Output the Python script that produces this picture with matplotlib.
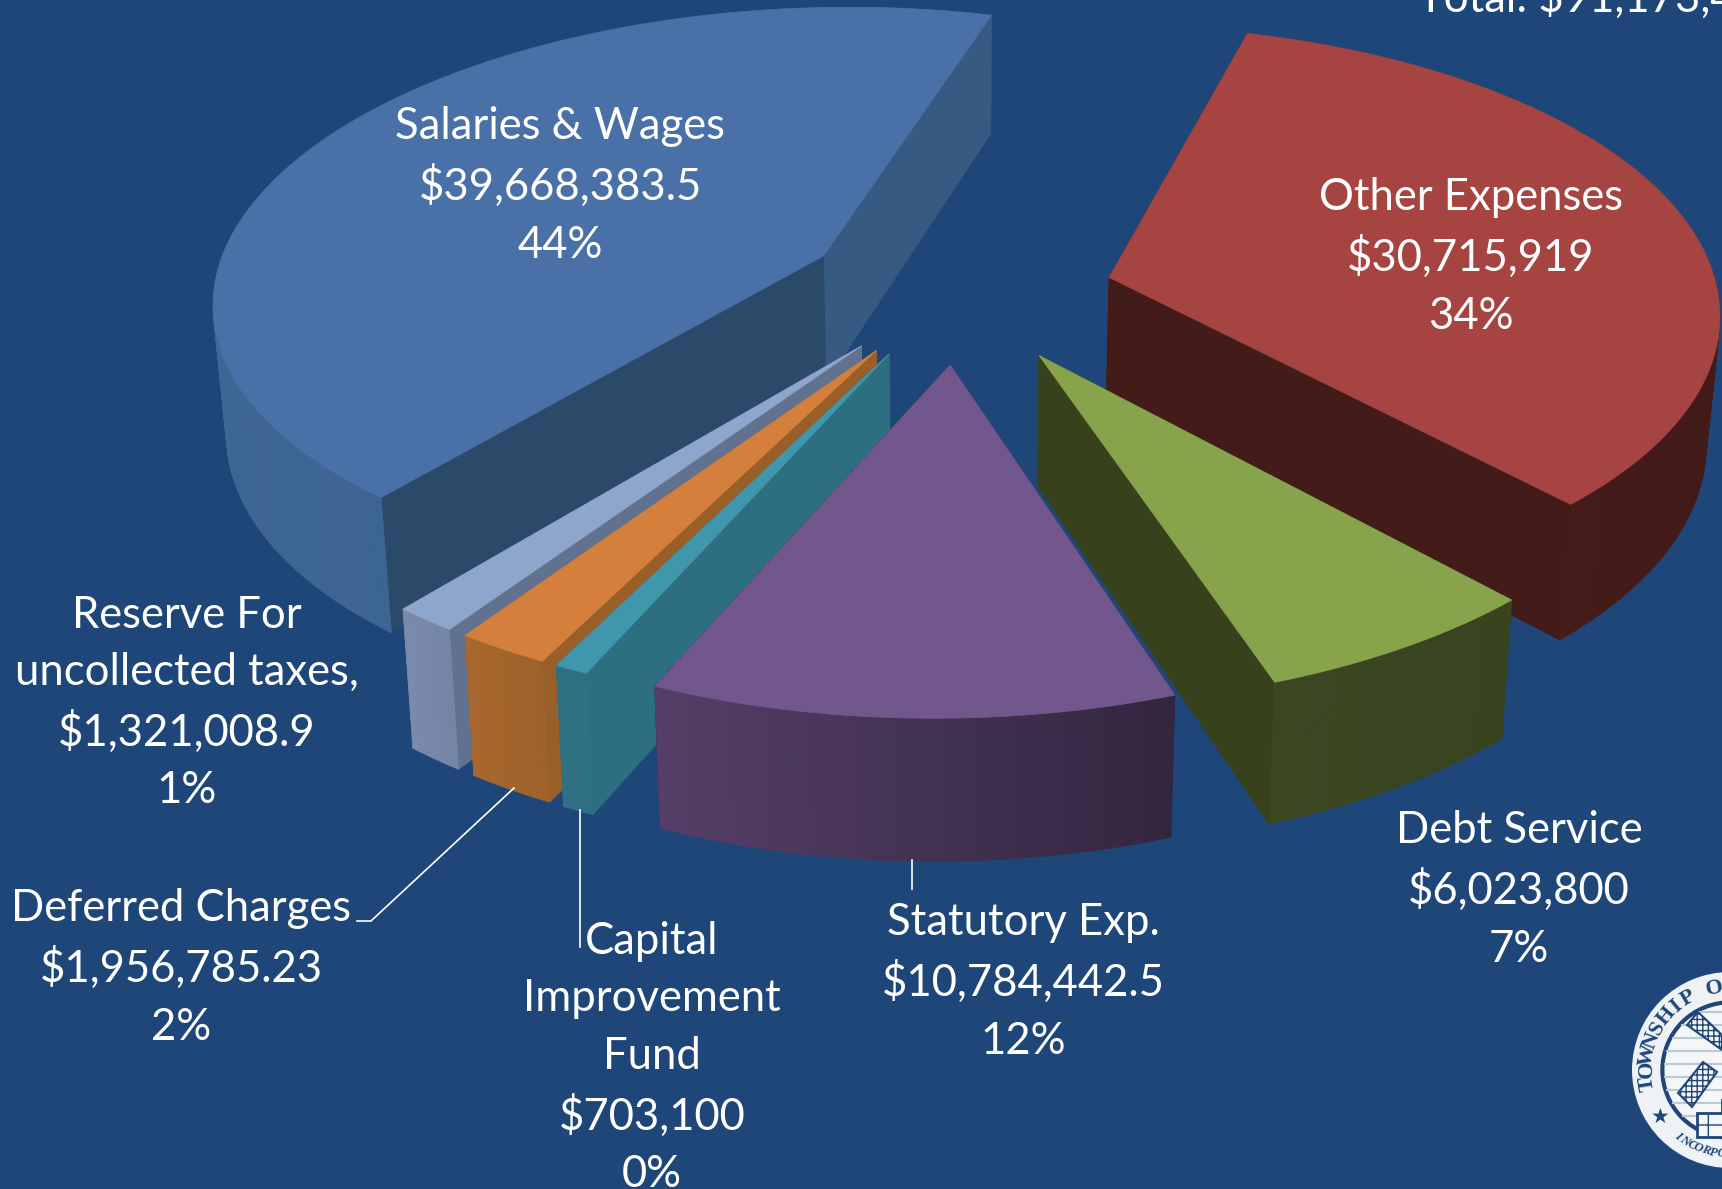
import numpy as np
import matplotlib
matplotlib.use("Agg")
import matplotlib.pyplot as plt
from matplotlib.patches import Polygon, Circle
from matplotlib.collections import PolyCollection

# ---- data ----
categories = ["Other Expenses", "Debt Service", "Statutory Exp.", "Capital\nImprovement\nFund",
              "Deferred Charges", "Reserve For\nuncollected taxes,", "Salaries & Wages"]
amounts = [30715919, 6023800, 10784442.5, 703100, 1956785.23, 1321008.9, 39668383.5]
amount_labels = ["$30,715,919", "$6,023,800", "$10,784,442.5", "$703,100",
                 "$1,956,785.23", "$1,321,008.9", "$39,668,383.5"]
percent_labels = ["34%", "7%", "12%", "0%", "2%", "1%", "44%"]
total_label = "Total: $91,173,439"

# ---- styles ----
BG = "#1F4679"
top_colors = ["#A54441", "#87A34C", "#72578C", "#4096AD", "#D47F3C", "#8FA6CC", "#4971A7"]
rim_left = ["#4A1D1A", "#3C4722", "#553F68", "#2F7083", "#A8672E", "#7A8AAA", "#3F6796"]
rim_right = ["#431B18", "#384320", "#33263F", "#2F7083", "#9E622B", "#7485A5", "#375C8A"]
wall_start = ["#431B18", "#37421C", "#33263F", "#2D6E80", "#985F29", "#61728F", "#2B4A69"]
wall_end = ["#431B18", "#37421C", "#33263F", "#2D6E80", "#985F29", "#61728F", "#365A82"]
draw_order = [6, 0, 5, 4, 3, 1, 2]
text_positions = [(1471, 257), (1519, 890), (1023, 982), (652, 1058), (181, 968), (187, 703), (560, 186)]
slice_nudge_y = [6, 2, 0, -4, -4, -4, 0]

CX, CY, A, B, K, EXPLODE, H = 953, 289, 610, 288, 0.126, 0.255, 128
SHEAR, SHIFT_X = 0.045, 5.5
START_DEG = 15.4
FS = 31.4

fig = plt.figure(figsize=(17.22, 11.89), dpi=100, facecolor=BG)
ax = fig.add_axes([0, 0, 1, 1], facecolor=BG)
ax.set_xlim(0, 1722)
ax.set_ylim(1189, 0)
ax.axis("off")
plt.rcParams["font.family"] = ["Lato", "DejaVu Sans"]


def top_pt(u, v, ny=0):
    w = 1 + K * v
    sy = CY - B * v / w
    sx = CX + A * u / w + SHIFT_X - SHEAR * (sy - CY)
    return np.array([sx, sy + ny])


def bot_pt(p):
    return np.array([CX + 0.982 * (p[0] - CX), CY + 1.035 * (p[1] - CY) + H])


total = sum(amounts)
edges = START_DEG + np.concatenate([[0], np.cumsum(amounts)]) / total * 360


def blend(c1, c2, t):
    a1, a2 = np.array(matplotlib.colors.to_rgb(c1)), np.array(matplotlib.colors.to_rgb(c2))
    return tuple(a1 + (a2 - a1) * t)


def draw_slice(i):
    t0, t1 = np.radians(edges[i]), np.radians(edges[i + 1])
    mid = (t0 + t1) / 2
    du, dv = EXPLODE * np.sin(mid), EXPLODE * np.cos(mid)
    ny = slice_nudge_y[i]
    ts = np.linspace(t0, t1, max(int((edges[i + 1] - edges[i]) * 1.5), 4))
    rim = [top_pt(du + np.sin(t), dv + np.cos(t), ny) for t in ts]
    apex = top_pt(du, dv, ny)
    z = 2
    for pt, col in ((rim[-1], wall_end[i]), (rim[0], wall_start[i])):
        ax.add_patch(Polygon([apex, pt, bot_pt(pt), bot_pt(apex)], closed=True, fc=col, ec=col, lw=0.5, zorder=z))
    quads, cols = [], []
    xs = np.array([p[0] for p in rim])
    lo, hi = xs.min(), xs.max()
    for t, p, q in zip(ts[:-1], rim[:-1], rim[1:]):
        if np.cos(t) > 0.1:  # back of the rim is hidden
            continue
        quads.append([p, q, bot_pt(q), bot_pt(p)])
        cols.append(blend(rim_left[i], rim_right[i], ((p[0] + q[0]) / 2 - lo) / max(hi - lo, 1)))
    ax.add_collection(PolyCollection(quads, facecolors=cols, edgecolors=cols, linewidths=0.5, zorder=z))
    ax.add_patch(Polygon([apex] + rim, closed=True, fc=top_colors[i], ec=top_colors[i], lw=0.5, zorder=z))


for i in draw_order:
    draw_slice(i)

# leader lines
LC = "white"
ax.plot([514, 371, 357], [788, 921, 921], color=LC, lw=1.2, zorder=4)
ax.plot([580, 580], [810, 947], color=LC, lw=1.2, zorder=4)
ax.plot([912, 912], [860, 889], color=LC, lw=1.2, zorder=4)

# labels
for i, (x, y) in enumerate(text_positions):
    s = f"{categories[i]}\n{amount_labels[i]}\n{percent_labels[i]}"
    ax.text(x, y, s, ha="center", va="center", color="white", fontsize=FS, linespacing=1.5, zorder=6)
ax.text(1418, 12, total_label, ha="left", va="baseline", color="white", fontsize=FS, zorder=6, clip_on=True)

# township seal, cropped by the right edge
SEAL = "#1F4679"
SX, SY, SR = 1730, 1070, 98
ax.add_patch(Circle((SX, SY), SR, fc="#EEF2F5", ec="none", zorder=7))
ax.add_patch(Circle((SX, SY), SR * 0.69, fc="#F4F6F8", ec=SEAL, lw=3, zorder=7))
for yy in range(int(SY - 58), int(SY + 50), 13):
    half = np.sqrt(max((SR * 0.67) ** 2 - (yy - SY) ** 2, 0))
    ax.plot([SX - half, SX + half], [yy, yy], color="#B9CAD6", lw=1.5, zorder=7)
blades = [[(-32, -58), (-43, -45), (-8, -20), (-8, -35)], [(-27, -8), (-13, 2), (-38, 37), (-52, 23)]]
for b in blades:
    ax.add_patch(Polygon([(SX + dx, SY + dy) for dx, dy in b], closed=True, fc="#F4F6F8", ec=SEAL, lw=1.5,
                         hatch="+++", zorder=8))
ax.add_patch(Polygon([(SX - 33, SY + 67), (SX - 33, SY + 43), (SX - 8, SY + 43), (SX - 8, SY + 30), (SX + 10, SY + 30),
                      (SX + 10, SY + 67)], closed=True, fc="#F4F6F8", ec=SEAL, lw=2, hatch="+", zorder=8))
SEAL_TOP = "TOWNSHIP O"
for k, ch in enumerate(SEAL_TOP):
    ang = np.radians(-99 + k * 9.8)
    r = SR * 0.85
    ax.text(SX + r * np.sin(ang), SY - r * np.cos(ang), ch, rotation=-np.degrees(ang), rotation_mode="anchor",
            ha="center", va="center", fontsize=16, fontweight="bold", family="Liberation Serif", color=SEAL, zorder=9)
SEAL_BOT = "INCORPO"
for k, ch in enumerate(SEAL_BOT):
    ang = np.radians(-142 - k * 5.3)
    r = SR * 0.86
    ax.text(SX + r * np.sin(ang), SY - r * np.cos(ang), ch, rotation=-np.degrees(ang) + 180, rotation_mode="anchor",
            ha="center", va="center", fontsize=9, fontstyle="italic", fontweight="bold", family="Liberation Serif",
            color=SEAL, zorder=9)
ax.text(SX - 70, SY + 47, "\u2605", ha="center", va="center", fontsize=15, color=SEAL, family="DejaVu Sans", zorder=9)

fig.savefig("out.png", dpi=100, facecolor=BG)
